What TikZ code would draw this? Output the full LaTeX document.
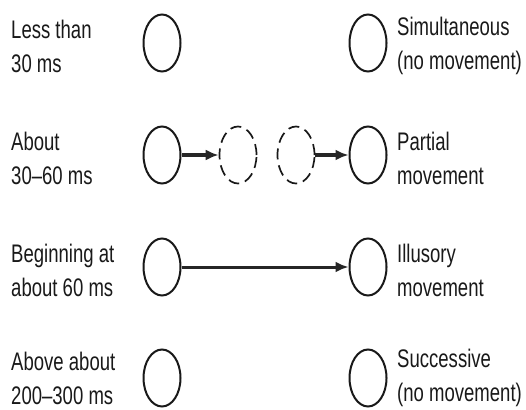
\documentclass[tikz,border=0pt]{standalone}
\usepackage{fontspec}
\setmainfont{Liberation Sans}[FakeStretch=0.73]
\usepackage{tikz}
\usetikzlibrary{positioning}
\usetikzlibrary{arrows.meta,shapes.geometric}
\tikzstyle{spot}=[ellipse,draw=black!90,line width=2pt,minimum width=37pt,minimum height=57pt,inner sep=0pt]
\tikzstyle{ghost}=[spot,dash pattern=on 11pt off 6pt,line width=1.7pt]
\tikzstyle{jump} = [draw=black!85,line width=3.2pt,-{Latex[length=13pt,width=11pt]}]
\tikzstyle{caption} = [anchor=west,align=left,inner sep=0pt,font=\fontsize{25.4}{34}\selectfont,text=black!90]

\begin{document}
\begin{tikzpicture}[x=1pt,y=-1pt]
    \useasboundingbox (0,0) rectangle (526,409);
    % First we draw the two columns of spots
    \foreach \y/\row in {43/1, 155/2, 267/3, 378/4}{
        \node[spot] (a\row) at (162,\y) {};
        \node[spot] (b\row) at (368,\y) {};
    }
    % the faded spots in between
    \node[ghost] (d1) at (238,155) {};
    \node[ghost] (d2) at (296,155) {};

    % Then the timing and the percept for each row
    \foreach \y/\row/\txt in {46/1/{Less than\\30 ms}, 158/2/{About\\30--60 ms}, 270/3/{Beginning at\\about 60 ms}, 378/4/{Above about\\200--300 ms}}
        \node[caption] (t\row) at (11,\y) {\txt};
    \foreach \y/\row/\txt in {46/1/{Simultaneous\\(no movement)}, 158/2/{Partial\\movement}, 270/3/{Illusory\\movement}, 378/4/{Successive\\(no movement)}}
        \node[caption] (p\row) at (397,\y) {\txt};

    \path[jump] (a2) -- (d1);
    \path[jump] (d2) -- (b2);
    \path[jump,line width=3pt] (a3) -- (b3);
\end{tikzpicture}
\end{document}
